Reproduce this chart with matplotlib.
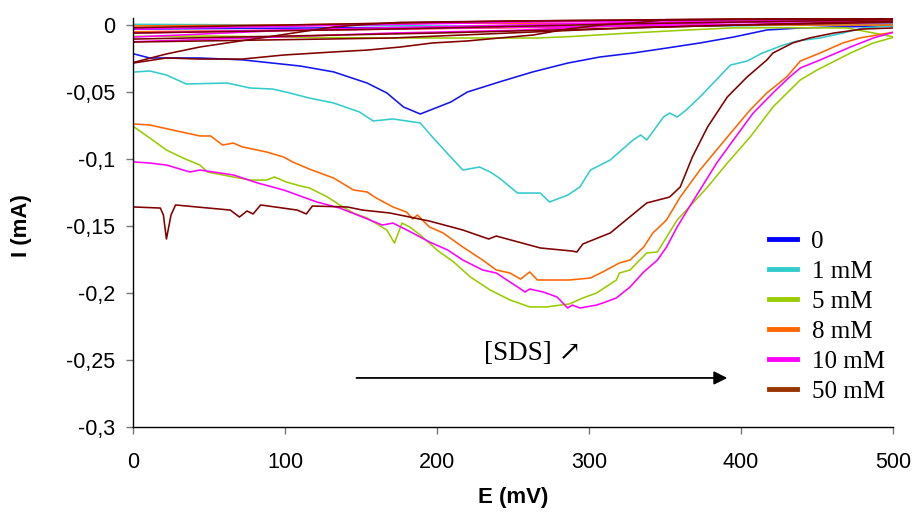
"""
plot.py  -  cyclic voltammograms for increasing SDS concentration
Saves the figure as out.png (916 x 516 px).
"""

import matplotlib
matplotlib.use("Agg")
import matplotlib.pyplot as plt
from matplotlib.ticker import FuncFormatter, MultipleLocator

# ── Data (E in mV, I in mA) ──────────────────────────────────────────────────

LABELS = ["0", "1 mM", "5 mM", "8 mM", "10 mM", "50 mM"]
COLORS = ["#1414F0", "#33CCCC", "#99CC00", "#FF6600", "#FF00FF", "#800000"]
LEGEND_COLORS = ["#0000FF", "#33CCCC", "#99CC00", "#FF6600", "#FF00FF", "#993300"]

# cathodic sweeps (the big waves)
E_0 = [0.7, 11, 44, 72, 110, 132, 154, 167, 178, 189, 209, 220, 241, 263,
       286, 307, 329, 351, 373, 395, 417, 439, 461, 501]
I_0 = [-0.0216, -0.0246, -0.0246, -0.026, -0.0306, -0.035, -0.0433, -0.0507,
       -0.0612, -0.0664, -0.0575, -0.05, -0.0425, -0.035, -0.0284, -0.0239,
       -0.0209, -0.0172, -0.0134, -0.009, -0.0037, -0.0022, -0.0015, -0.0007]

E_1 = [0.7, 11, 22, 35, 62, 77, 92, 103, 116, 132, 149, 158, 171, 189, 197,
       209, 217, 228, 235, 241, 253, 268, 274, 286, 294, 301, 314, 329, 334,
       338, 349, 353, 358, 364, 373, 393, 404, 414, 428, 437, 452, 467, 480, 500]
I_1 = [-0.0351, -0.0343, -0.0373, -0.044, -0.0433, -0.047, -0.0478, -0.0507,
       -0.0545, -0.0582, -0.0649, -0.0716, -0.0701, -0.0731, -0.0836, -0.0985,
       -0.1082, -0.106, -0.1097, -0.1142, -0.1254, -0.1254, -0.1321, -0.1269,
       -0.1209, -0.1082, -0.1007, -0.0858, -0.0821, -0.0858, -0.0687, -0.0657,
       -0.0687, -0.0634, -0.0537, -0.0299, -0.0269, -0.0209, -0.0149, -0.0119,
       -0.0097, -0.006, -0.0022, -0.0007]

E_5 = [0.7, 11, 22, 33, 44, 49, 66, 77, 88, 93, 101, 110, 116, 128, 136, 145,
       154, 167, 172, 177, 182, 189, 200, 211, 222, 235, 248, 261, 272, 287,
       296, 305, 318, 320, 327, 338, 345, 358, 366, 378, 391, 406, 421, 439,
       450, 472, 487, 501]
I_5 = [-0.0761, -0.0843, -0.0933, -0.0993, -0.1045, -0.1097, -0.1134, -0.1157,
       -0.1157, -0.1134, -0.1172, -0.1201, -0.1216, -0.1284, -0.1343, -0.1403,
       -0.144, -0.153, -0.1627, -0.1478, -0.1507, -0.1567, -0.1679, -0.1769,
       -0.1881, -0.1978, -0.2052, -0.2104, -0.2104, -0.2082, -0.2037, -0.2,
       -0.1903, -0.1851, -0.1828, -0.1701, -0.1694, -0.1455, -0.1358, -0.1209,
       -0.103, -0.0836, -0.0612, -0.041, -0.0336, -0.0209, -0.0134, -0.009]

E_8 = [0.7, 11, 29, 44, 51, 59, 66, 72, 88, 99, 105, 116, 132, 145, 154, 160,
       171, 180, 184, 187, 195, 204, 217, 230, 239, 248, 255, 261, 266, 272,
       287, 301, 309, 320, 327, 336, 342, 351, 360, 373, 391, 406, 417, 430,
       439, 452, 467, 478, 501]
I_8 = [-0.0739, -0.0746, -0.0791, -0.0828, -0.0828, -0.0896, -0.0881, -0.091,
       -0.0948, -0.0985, -0.1022, -0.1075, -0.1142, -0.1231, -0.1246, -0.1291,
       -0.1358, -0.1396, -0.1448, -0.1418, -0.1507, -0.1552, -0.1657, -0.1754,
       -0.1828, -0.1851, -0.1896, -0.1843, -0.1903, -0.1903, -0.1903, -0.1888,
       -0.1843, -0.1776, -0.1754, -0.1657, -0.1552, -0.1455, -0.1284, -0.1082,
       -0.0836, -0.0634, -0.0507, -0.0388, -0.0269, -0.0209, -0.0134, -0.0097,
       -0.0052]

E_10 = [0.7, 11, 22, 37.5, 44, 66, 82, 99, 110, 121, 136, 151, 164, 171, 184,
        195, 207, 217, 230, 239, 253, 258, 261, 270, 279, 286, 289, 294, 305,
        309, 318, 327, 336, 345, 351, 358, 366, 373, 384, 395, 408, 421, 432,
        439, 452, 472, 487, 501]
I_10 = [-0.1022, -0.103, -0.1045, -0.1097, -0.1082, -0.1119, -0.1179, -0.1231,
        -0.1276, -0.1321, -0.1366, -0.1433, -0.1493, -0.1478, -0.1552, -0.1619,
        -0.1679, -0.1754, -0.1828, -0.1851, -0.1955, -0.1993, -0.197, -0.1993,
        -0.203, -0.2112, -0.209, -0.2112, -0.209, -0.2075, -0.2037, -0.1955,
        -0.1843, -0.1754, -0.1657, -0.1507, -0.1358, -0.1231, -0.103, -0.0858,
        -0.0657, -0.0507, -0.0388, -0.0321, -0.0261, -0.0164, -0.0097, -0.0052]

E_50 = [0.7, 18, 20, 22, 25, 28, 42, 64, 70, 75, 79, 84, 108, 114, 118, 141,
        151, 169, 195, 217, 234, 239, 268, 289, 292, 296, 314, 338, 353, 360,
        368, 378, 391, 404, 417, 421, 434, 445, 461, 480, 500]
I_50 = [-0.1358, -0.1366, -0.1418, -0.1597, -0.1418, -0.1343, -0.1358, -0.1381,
        -0.1433, -0.1388, -0.141, -0.1343, -0.1381, -0.141, -0.1351, -0.1358,
        -0.1381, -0.1403, -0.1463, -0.153, -0.1597, -0.1575, -0.1664, -0.1687,
        -0.1694, -0.1634, -0.1552, -0.1328, -0.1284, -0.1209, -0.0985, -0.0761,
        -0.0537, -0.0388, -0.0261, -0.0209, -0.0134, -0.0097, -0.006, -0.003,
        -0.0022]

# return sweeps (the bundle of lines close to zero), several per series
REV_0 = [([500, 300, 0], [0.0005, -0.001, -0.003])]
REV_1 = [([500, 400, 250, 100, 0], [0.0005, -0.0005, -0.001, 0.0, 0.0005])]
REV_5 = [([501, 470, 430, 393, 360, 327, 290, 266, 200, 162, 100, 50, 0],
          [-0.009, -0.0022, -0.002, -0.0022, -0.004, -0.006, -0.0085, -0.0097,
           -0.0097, -0.0097, -0.009, -0.0082, -0.0085])]
REV_8 = [([500, 450, 366, 300, 180, 100, 0],
          [0.005, 0.005, 0.0015, 0.001, 0.0015, 0.0, -0.0007]),
         ([500, 380, 250, 100, 0], [0.0, 0.0, -0.002, -0.004, -0.005])]
REV_10 = [([500, 400, 330, 250, 170, 80, 0],
           [0.003, 0.002, 0.0, -0.004, -0.006, -0.0095, -0.0125]),
          ([500, 330, 170, 0], [0.004, 0.002, -0.002, -0.006]),
          ([500, 250, 0], [0.005, 0.002, -0.003]),
          ([500, 300, 100, 0], [0.002, -0.001, -0.004, -0.009])]
REV_50 = [([0, 22, 44, 72, 99, 132, 154, 176, 197, 220, 241, 263, 286, 307,
            329, 351, 400, 500],
           [-0.0284, -0.0246, -0.0254, -0.0254, -0.0224, -0.0201, -0.0187,
            -0.0164, -0.0134, -0.0119, -0.0097, -0.0075, -0.003, 0.0, 0.0015,
            0.004, 0.0045, 0.0045]),
          ([0, 22, 44, 66, 88, 110, 132, 154, 176, 250, 350, 500],
           [-0.028, -0.0216, -0.0164, -0.0127, -0.009, -0.0052, -0.0015,
            0.0005, 0.002, 0.003, 0.004, 0.0045]),
          ([0, 170, 330, 500], [-0.0127, -0.0097, -0.002, 0.003]),
          ([0, 170, 330, 500], [-0.006, -0.003, 0.001, 0.004]),
          ([0, 250, 500], [-0.002, 0.003, 0.005]),
          ([0, 200, 400, 500], [-0.0105, -0.006, 0.0, 0.002])]

SWEEPS = [(E_0, I_0, REV_0), (E_1, I_1, REV_1), (E_5, I_5, REV_5),
          (E_8, I_8, REV_8), (E_10, I_10, REV_10), (E_50, I_50, REV_50)]

# ── Figure ────────────────────────────────────────────────────────────────────

fig = plt.figure(figsize=(9.16, 5.16), dpi=100)
ax = fig.add_axes([0.1452, 0.1725, 0.8297, 0.7920])

for (e, i, rev), color in zip(SWEEPS, COLORS):
    ax.plot(e, i, color=color, lw=1.15)
    for re, ri in rev:
        ax.plot(re, ri, color=color, lw=1.15)

ax.set_xlim(0, 500)
ax.set_ylim(-0.3, 0.005)

for side in ("top", "right"):
    ax.spines[side].set_visible(False)
for side in ("left", "bottom"):
    ax.spines[side].set_color("black")
    ax.spines[side].set_linewidth(1.0)

ax.xaxis.set_major_locator(MultipleLocator(100))
ax.yaxis.set_major_locator(MultipleLocator(0.05))
ax.yaxis.set_major_formatter(FuncFormatter(lambda v, p: f"{v:g}".replace(".", ",")))
ax.tick_params(axis="both", direction="out", length=5, width=1, color="#777777",
               labelsize=15.5)
ax.tick_params(axis="x", pad=13)
ax.tick_params(axis="y", pad=8)
for lbl in ax.get_xticklabels() + ax.get_yticklabels():
    lbl.set_family("Liberation Sans")

fig.text(513 / 916, 1 - 497 / 516, "E (mV)", ha="center", va="center",
         fontsize=16, fontweight="bold", family="Liberation Sans")
fig.text(22 / 916, 1 - 226 / 516, "I (mA)", ha="center", va="center",
         rotation=90, fontsize=16, fontweight="bold", family="Liberation Sans")

# concentration arrow
ax.annotate("", xy=(391, -0.2634), xytext=(147, -0.2634),
            arrowprops=dict(arrowstyle="-|>", color="black", lw=1.3,
                            mutation_scale=20, shrinkA=0, shrinkB=0))
ax.text(263, -0.2448, "[SDS] \u2197", ha="center", va="center", fontsize=19.5,
        family=["Liberation Serif", "DejaVu Serif"])

# legend with thick handles
handles = [plt.Line2D([], [], color=c, lw=3.5) for c in LEGEND_COLORS]
ax.legend(handles, LABELS, loc="upper left", frameon=False,
          bbox_to_anchor=(769 / 916, 1 - 230 / 516), bbox_transform=fig.transFigure,
          borderpad=0, borderaxespad=0, handlelength=1.1, handletextpad=0.6,
          labelspacing=0.3, prop={"family": "Liberation Serif", "size": 18})

fig.savefig("out.png", dpi=100)
